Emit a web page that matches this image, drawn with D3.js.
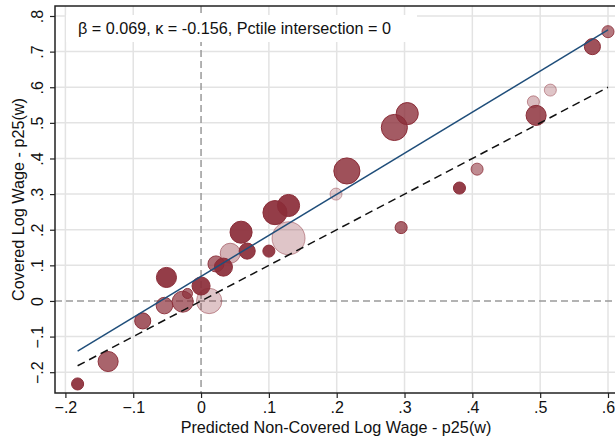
<!DOCTYPE html>
<html>
<head>
<meta charset="utf-8">
<script src="https://d3js.org/d3.v7.min.js"></script>
<style>
  body { margin: 0; background: #fff; }
  svg { font-family: "Liberation Sans", Arial, sans-serif; }
</style>
</head>
<body>
<div id="chart-area"></div>
<script>
// data
var xVals = [-0.182, -0.137, -0.086, -0.051, -0.054, -0.027, -0.020, 0.000, 0.012, 0.022,
             0.033, 0.043, 0.059, 0.068, 0.100, 0.109, 0.129, 0.129, 0.199, 0.215,
             0.285, 0.295, 0.304, 0.381, 0.407, 0.490, 0.494, 0.515, 0.577, 0.600];
var yVals = [-0.233, -0.170, -0.056, 0.066, -0.013, -0.002, 0.021, 0.042, 0.000, 0.104,
             0.095, 0.134, 0.193, 0.140, 0.140, 0.248, 0.268, 0.176, 0.300, 0.365,
             0.487, 0.206, 0.526, 0.317, 0.370, 0.559, 0.521, 0.592, 0.714, 0.756];
var weights = [36, 100, 64, 100, 68, 110, 25, 81, 160, 64,
               81, 100, 121, 64, 36, 144, 121, 270, 36, 169,
               169, 36, 121, 36, 36, 36, 100, 36, 64, 36];
var shares = [1, 0.8, 0.85, 1, 0.75, 0.75, 0.75, 1, 0.3, 0.75,
              1, 0.4, 1, 1, 1, 1, 1, 0.3, 0.25, 0.9,
              0.85, 0.8, 0.85, 1, 0.6, 0.35, 0.9, 0.3, 0.9, 0.7];
var xTicks = [-0.2, -0.1, 0, 0.1, 0.2, 0.3, 0.4, 0.5, 0.6];
var yTicks = [-0.2, -0.1, 0, 0.1, 0.2, 0.3, 0.4, 0.5, 0.6, 0.7, 0.8];
var fitIntercept = 0.069;
var fitSlope = 1.153;
var lineRange = [-0.182, 0.6];
var note = "\u03B2 = 0.069, \u03BA = -0.156, Pctile intersection = 0";

var width = 615, height = 441;
var plot = {left: 55, top: 6, right: 616, bottom: 393};

var svg = d3.select("#chart-area").append("svg")
    .attr("width", width)
    .attr("height", height);

var x = d3.scaleLinear().domain([-0.2, 0.6]).range([65.4, 608]);
var y = d3.scaleLinear().domain([-0.2, 0.8]).range([372.2, 16]);
var r = d3.scaleSqrt().domain([0, d3.max(weights)]).range([0, 16.5]);

var fmt = function(d) {
    if (Math.abs(d) < 1e-9) return "0";
    return d3.format(".1f")(d).replace("0.", ".");
};

// grid
svg.append("g").selectAll("line").data(xTicks.filter(d => d !== 0)).enter()
    .append("line")
    .attr("x1", d => x(d)).attr("x2", d => x(d))
    .attr("y1", plot.top).attr("y2", plot.bottom)
    .attr("stroke", "#e3e3e3").attr("stroke-width", 1.5);
svg.append("g").selectAll("line").data(yTicks.filter(d => d !== 0)).enter()
    .append("line")
    .attr("y1", d => y(d)).attr("y2", d => y(d))
    .attr("x1", plot.left).attr("x2", plot.right)
    .attr("stroke", "#e3e3e3").attr("stroke-width", 1.5);

// zero reference lines
svg.append("line")
    .attr("x1", x(0)).attr("x2", x(0))
    .attr("y1", plot.top).attr("y2", plot.bottom)
    .attr("stroke", "#9a9a9a").attr("stroke-width", 1.5)
    .attr("stroke-dasharray", "7,4");
svg.append("line")
    .attr("x1", plot.left).attr("x2", plot.right)
    .attr("y1", y(0)).attr("y2", y(0))
    .attr("stroke", "#9a9a9a").attr("stroke-width", 1.5)
    .attr("stroke-dasharray", "7,4");

// note box
svg.append("rect")
    .attr("x", 66).attr("y", 15)
    .attr("width", 351).attr("height", 27)
    .attr("fill", "#fff");
svg.append("text")
    .attr("x", 78).attr("y", 34)
    .attr("font-size", "16.2px")
    .attr("fill", "#111")
    .text(note);

// bubbles
var pts = xVals.map((d, i) => ({x: d, y: yVals[i], w: weights[i], s: shares[i]}));
svg.append("g").selectAll("circle").data(pts).enter()
    .append("circle")
    .attr("cx", d => x(d.x))
    .attr("cy", d => y(d.y))
    .attr("r", d => r(d.w))
    .attr("fill", "#8b2d38")
    .attr("fill-opacity", d => d.s * 0.92)
    .attr("stroke", "#8b2d38")
    .attr("stroke-opacity", d => Math.min(1, d.s + 0.15))
    .attr("stroke-width", 1);

// 45 degree line
svg.append("line")
    .attr("x1", x(lineRange[0])).attr("y1", y(lineRange[0]))
    .attr("x2", x(lineRange[1])).attr("y2", y(lineRange[1]))
    .attr("stroke", "#111").attr("stroke-width", 1.5)
    .attr("stroke-dasharray", "8,5");

// fitted line
svg.append("line")
    .attr("x1", x(lineRange[0])).attr("y1", y(fitIntercept + fitSlope * lineRange[0]))
    .attr("x2", x(lineRange[1])).attr("y2", y(fitIntercept + fitSlope * lineRange[1]))
    .attr("stroke", "#1f4e7a").attr("stroke-width", 1.5);

// frame
svg.append("rect")
    .attr("x", plot.left).attr("y", plot.top)
    .attr("width", plot.right - plot.left).attr("height", plot.bottom - plot.top)
    .attr("fill", "none").attr("stroke", "#222").attr("stroke-width", 1.5);

// axes
var bottomAxis = d3.axisBottom(x).tickValues(xTicks).tickFormat(fmt).tickSize(5).tickSizeOuter(0);
var gx = svg.append("g")
    .attr("transform", "translate(0," + plot.bottom + ")")
    .call(bottomAxis);
gx.select(".domain").remove();
gx.selectAll("line").attr("stroke", "#222").attr("stroke-width", 1.2);
gx.selectAll("text").attr("font-size", "16px").attr("fill", "#111").attr("y", 9)
    .attr("font-family", "Liberation Sans, Arial, sans-serif");

var leftAxis = d3.axisLeft(y).tickValues(yTicks).tickFormat(fmt).tickSize(5).tickSizeOuter(0);
var gy = svg.append("g")
    .attr("transform", "translate(" + plot.left + ",0)")
    .call(leftAxis);
gy.select(".domain").remove();
gy.selectAll("line").attr("stroke", "#222").attr("stroke-width", 1.2);
gy.selectAll("text")
    .attr("font-size", "16px").attr("fill", "#111")
    .attr("font-family", "Liberation Sans, Arial, sans-serif")
    .attr("x", null).attr("dy", null)
    .attr("text-anchor", "middle")
    .attr("transform", "translate(-12,0) rotate(-90)")
    .attr("y", 0);

svg.append("text")
    .attr("x", 336)
    .attr("y", 433)
    .attr("font-size", "16.2px")
    .attr("text-anchor", "middle")
    .attr("fill", "#111")
    .text("Predicted Non-Covered Log Wage - p25(w)");
svg.append("text")
    .attr("transform", "translate(24," + (plot.top + plot.bottom) / 2 + ") rotate(-90)")
    .attr("font-size", "16.2px")
    .attr("text-anchor", "middle")
    .attr("fill", "#111")
    .text("Covered Log Wage - p25(w)");
</script>
</body>
</html>
